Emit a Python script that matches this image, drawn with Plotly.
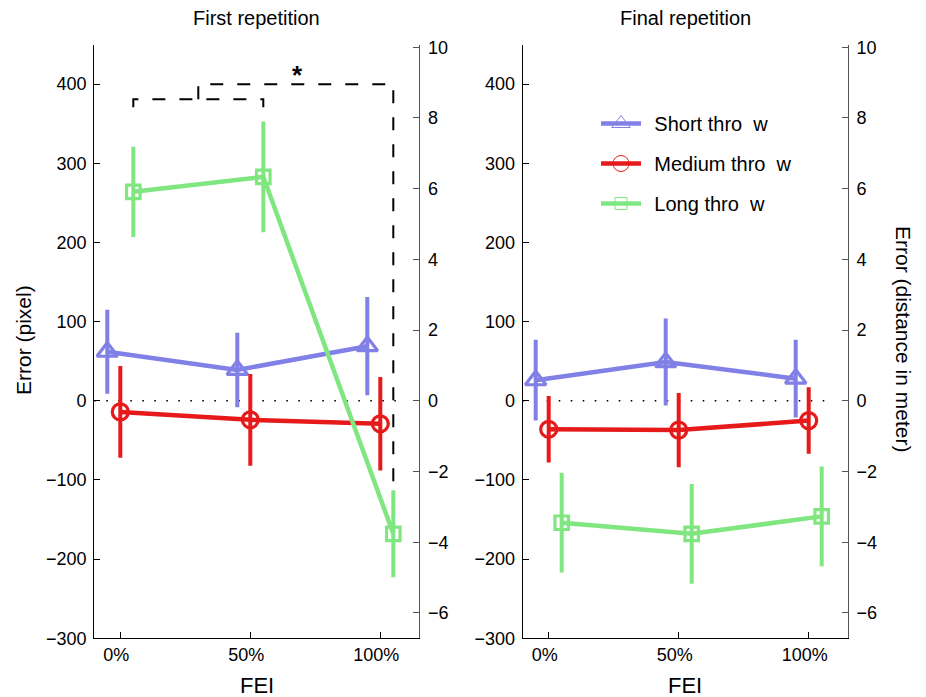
import plotly.graph_objects as go

# ---------------- data ----------------
fei_levels = [0, 50, 100]
fei_tick_labels = ["0%", "50%", "100%"]
series_names = ["Short thro\u00a0\u00a0w", "Medium thro\u00a0\u00a0w", "Long thro\u00a0\u00a0w"]
series_offsets = [-5, 0, 5]

first_short = [62, 39, 69]
first_short_err = [53, 47, 62]
first_medium = [-14, -24, -29]
first_medium_err = [58, 58, 59]
first_long = [264, 283, -168]
first_long_err = [57, 70, 55]

final_short = [26, 49, 28]
final_short_err = [51, 55, 49]
final_medium = [-36, -37, -25]
final_medium_err = [42, 47, 42]
final_long = [-154, -168, -146]
final_long_err = [63, 63, 63]

pixel_ticks = [-300, -200, -100, 0, 100, 200, 300, 400]
meter_ticks = [-6, -4, -2, 0, 2, 4, 6, 8, 10]
pixel_range = [-300, 449.5]
pixels_per_meter = 44.67

# significance bracket (first repetition, long throw)
bracket_low_level = 381
bracket_low_drop = 371
bracket_high_level = 400
bracket_high_drop = -108
bracket_star_level = 421

# ---------------- style ----------------
colors = ["#8080E6", "#E61A1A", "#80E680"]
symbols = ["triangle-up-open", "circle-open", "square-open"]
msizes = [18, 16, 13.5]
FONT = "Liberation Sans, Arial, Helvetica, sans-serif"

W, H = 926, 697
OFF = 8  # page body offset


def px(xp):
    return (xp - OFF) / W


def py(yp):
    return 1 - (yp - OFF) / H


fig = go.Figure()

panels = [
    dict(x="x", y="y", data=[(first_short, first_short_err), (first_medium, first_medium_err), (first_long, first_long_err)]),
    dict(x="x2", y="y3", data=[(final_short, final_short_err), (final_medium, final_medium_err), (final_long, final_long_err)]),
]

for p in panels:
    for i, (vals, errs) in enumerate(p["data"]):
        xs = [f + series_offsets[i] for f in fei_levels]
        fig.add_trace(go.Scatter(
            x=xs, y=vals, xaxis=p["x"], yaxis=p["y"], mode="lines+markers",
            line=dict(color=colors[i], width=4.5),
            marker=dict(symbol=symbols[i], size=msizes[i], color=colors[i], line=dict(width=3.2, color=colors[i])),
            error_y=dict(type="data", array=errs, visible=True, color=colors[i], thickness=4, width=0),
            showlegend=False, hoverinfo="skip",
        ))

# bracket traces
long_x = [f + series_offsets[2] for f in fei_levels]
mid_x = (long_x[0] + long_x[1]) / 2
fig.add_trace(go.Scatter(
    x=[long_x[0], long_x[0], long_x[1], long_x[1]],
    y=[bracket_low_drop, bracket_low_level, bracket_low_level, bracket_low_drop],
    xaxis="x", yaxis="y", mode="lines", line=dict(color="black", width=2, dash="13px,14px"),
    showlegend=False, hoverinfo="skip"))
fig.add_trace(go.Scatter(
    x=[mid_x, mid_x, long_x[2], long_x[2]],
    y=[bracket_low_level, bracket_high_level, bracket_high_level, bracket_high_drop],
    xaxis="x", yaxis="y", mode="lines", line=dict(color="black", width=2, dash="13px,14px"),
    showlegend=False, hoverinfo="skip"))

# legend-only traces
for i in range(3):
    fig.add_trace(go.Scatter(
        x=[None], y=[None], xaxis="x2", yaxis="y3", mode="lines+markers",
        name="\u2004\u200a" + series_names[i],
        legendgroup=str(i),
        line=dict(color=colors[i], width=4.5),
        marker=dict(symbol=symbols[i], size=[17, 16, 12][i], color=colors[i], line=dict(width=1, color=colors[i])),
    ))

# zero dotted lines
for xr, yr in [("x", "y"), ("x2", "y3")]:
    fig.add_shape(type="line", xref=xr, yref=yr, x0=-10, x1=110, y0=0, y1=0,
                  line=dict(color="black", width=1.6, dash="1.6px,10.4px"), layer="below")

# ---------------- layout ----------------
dom_l = [px(94.3), px(419.3)]
dom_r = [px(522.7), px(847.7)]
dom_y = [py(638.3), py(45)]
meter_range = [pixel_range[0] / pixels_per_meter, pixel_range[1] / pixels_per_meter]

tickfont = dict(family=FONT, size=18, color="black")


def xax(domain, anchor):
    return dict(domain=domain, anchor=anchor, range=[-10, 115], tickmode="array",
                tickvals=fei_levels, ticktext=fei_tick_labels, ticks="inside", ticklen=6,
                tickcolor="black", showline=True, linecolor="black", linewidth=1.2,
                showgrid=False, zeroline=False, tickfont=tickfont, ticklabelshift=-4,
                automargin=False)


def yax_left(anchor):
    return dict(domain=dom_y, anchor=anchor, range=pixel_range, tickmode="array", tickvals=pixel_ticks,
                ticks="inside", ticklen=6, tickcolor="black", showline=True, linecolor="black",
                linewidth=1.2, showgrid=False, zeroline=False, tickfont=tickfont, ticklabelstandoff=3,
                automargin=False)


def yax_right(anchor, overlay):
    return dict(domain=dom_y, anchor=anchor, overlaying=overlay, side="right", range=meter_range,
                tickmode="array", tickvals=meter_ticks, ticks="inside", ticklen=6, tickcolor="#555",
                showline=True, linecolor="#555", linewidth=1.2, showgrid=False, zeroline=False,
                tickfont=tickfont, ticklabelstandoff=4, automargin=False)


fig.update_layout(
    width=W, height=H, margin=dict(l=0, r=0, t=0, b=0, pad=0, autoexpand=False),
    paper_bgcolor="white", plot_bgcolor="white",
    font=dict(family=FONT, color="black"),
    xaxis=xax(dom_l, "y"), yaxis=yax_left("x"), yaxis2=yax_right("x", "y"),
    xaxis2=xax(dom_r, "y3"), yaxis3=yax_left("x2"), yaxis4=yax_right("x2", "y3"),
    hovermode=False,
    legend=dict(x=px(596), y=py(104), xanchor="left", yanchor="top", bgcolor="rgba(0,0,0,0)",
                font=dict(family=FONT, size=20), traceorder="grouped", tracegroupgap=11, itemwidth=40),
)

# phantom traces so the right axes render
fig.add_trace(go.Scatter(x=[None], y=[None], xaxis="x", yaxis="y2", showlegend=False))
fig.add_trace(go.Scatter(x=[None], y=[None], xaxis="x2", yaxis="y4", showlegend=False))

ann = []
ann.append(dict(text="First repetition", x=(dom_l[0] + dom_l[1]) / 2, y=py(18), xref="paper", yref="paper",
                xanchor="center", yanchor="middle", showarrow=False, font=dict(size=20)))
ann.append(dict(text="Final repetition", x=(dom_r[0] + dom_r[1]) / 2, y=py(18), xref="paper", yref="paper",
                xanchor="center", yanchor="middle", showarrow=False, font=dict(size=20)))
for d in (dom_l, dom_r):
    ann.append(dict(text="FEI", x=(d[0] + d[1]) / 2, y=py(685), xref="paper", yref="paper",
                    xanchor="center", yanchor="middle", showarrow=False, font=dict(size=22)))
ann.append(dict(text="Error (pixel)", x=px(23), y=py(340), xref="paper", yref="paper", textangle=-90,
                xanchor="center", yanchor="middle", showarrow=False, font=dict(size=21)))
ann.append(dict(text="Error (distance in meter)", x=px(904), y=py(339), xref="paper", yref="paper",
                xanchor="center", yanchor="middle", textangle=90, showarrow=False, font=dict(size=21)))
ann.append(dict(text="<b>*</b>", x=(mid_x + long_x[2]) / 2 + 0.5, y=bracket_star_level, xref="x", yref="y",
                showarrow=False, font=dict(size=26), xanchor="center", yanchor="middle", yshift=-7))
fig.update_layout(annotations=ann)

fig.write_html("out.html")
